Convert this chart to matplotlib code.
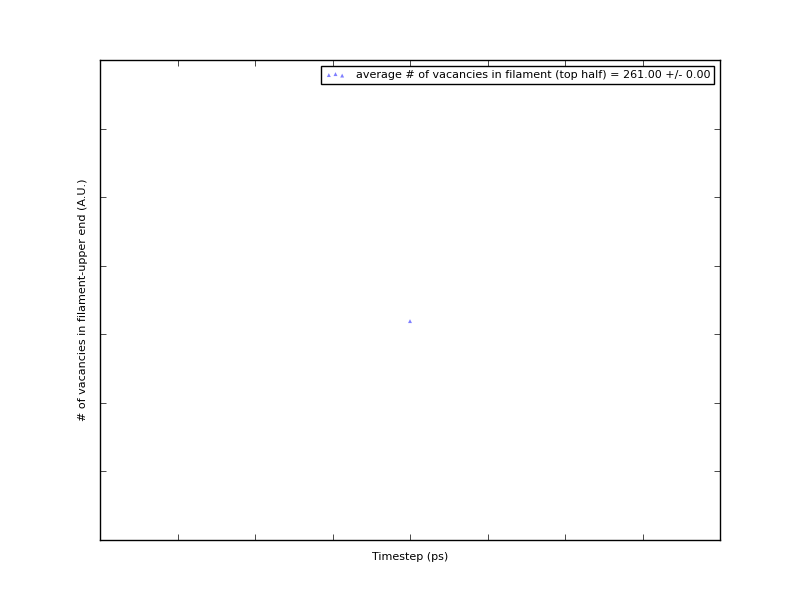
import numpy as np
import matplotlib
matplotlib.use("Agg")
import matplotlib.pyplot as plt

# single sample: timestep and vacancy count (top half of filament)
timestep = [0.0]
vacancies = [261.0]

avg = np.mean(vacancies)
std = np.std(vacancies)

plt.style.use("classic")
fig = plt.figure(figsize=(8, 6), dpi=100)
ax = fig.add_axes([0.125, 0.1, 0.775, 0.8])

ax.scatter(timestep, vacancies, marker="^", s=8, color="blue", alpha=0.5,
           edgecolors="none",
           label="average # of vacancies in filament (top half) = %.2f +/- %.2f" % (avg, std))

# axis limits so that the lone point sits where it does in the figure
ax.set_xlim(-4, 4)
ax.set_xticks(np.arange(-4, 5, 1))
ylo = 261 - 0.456 * 7
ax.set_ylim(ylo, ylo + 7)
ax.set_yticks(ylo + np.arange(0, 8))
ax.set_xticklabels([])
ax.set_yticklabels([])

ax.set_xlabel("Timestep (ps)", fontsize=8)
ax.set_ylabel("# of vacancies in filament-upper end (A.U.)", fontsize=8)
ax.legend(loc="upper right", fontsize=8, scatterpoints=3, borderpad=0.4,
          handletextpad=0.9, handlelength=1.8, fancybox=False)

fig.savefig("out.png", dpi=100)
